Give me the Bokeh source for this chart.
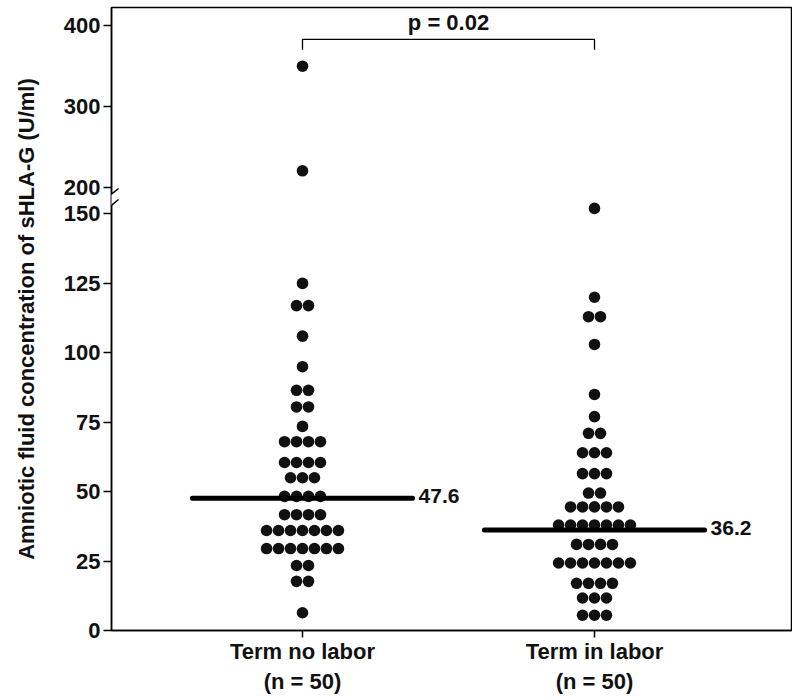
from collections import Counter
from bokeh.plotting import figure
from bokeh.models import (Range1d, FixedTicker, CustomJSTickFormatter, Label,
                          PolyAnnotation, Arrow)
from bokeh.embed import file_html
from bokeh.resources import INLINE

# ---------------- data ----------------
groups = ["Term no labor", "Term in labor"]
group_n = [50, 50]
no_labor = [350, 221, 125, 117, 117, 106, 95, 86.5, 86.5, 80.5, 80.5, 73.5,
            68, 68, 68, 68, 60.5, 60.5, 60.5, 60.5, 55, 55, 55,
            48.3, 48.3, 48.3, 48.3, 41.7, 41.7, 41.7, 41.7,
            36, 36, 36, 36, 36, 36, 36,
            29.5, 29.5, 29.5, 29.5, 29.5, 29.5, 29.5,
            23.4, 23.4, 17.7, 17.7, 6.4]
in_labor = [152, 120, 113, 113, 103, 85, 77, 71, 71, 64, 64, 64,
            56.5, 56.5, 56.5, 49.5, 49.5, 44.5, 44.5, 44.5, 44.5, 44.5,
            38, 38, 38, 38, 38, 38, 38, 31, 31, 31, 31,
            24.3, 24.3, 24.3, 24.3, 24.3, 24.3, 24.3,
            17, 17, 17, 17, 11.7, 11.7, 11.7, 5.5, 5.5, 5.5]
medians = [47.6, 36.2]
p_text = "p = 0.02"
bracket_y = 383
y_ticks = [0, 25, 50, 75, 100, 125, 150, 200, 300, 400]
y_label = "Amniotic fluid concentration of sHLA-G (U/ml)"

# ---------------- broken axis transform ----------------
LO, HI, GAP, K = 150, 200, 9.4, 0.292


def brk(v):
    return v if v < HI else LO + GAP + (v - HI) * K


FONT = "Liberation Sans"
DX = 0.041      # horizontal spacing of dots (data units)
HALF = 0.377    # half width of median bars

FL, FT, FW, FH = 111, 7, 680, 623
x_lo = 1 + (FL - 302) / 292.0
x_hi = 1 + (FL + FW - 302) / 292.0
y_hi = FH / 2.777

p = figure(frame_width=FW, frame_height=FH,
           x_range=Range1d(x_lo, x_hi), y_range=Range1d(0, y_hi),
           output_backend="svg", toolbar_location=None,
           min_border_left=FL, min_border_top=FT, min_border_right=1,
           min_border_bottom=5, background_fill_color="white",
           border_fill_color="white")

p.xgrid.visible = False
p.ygrid.visible = False
p.outline_line_color = "black"
p.outline_line_width = 1.5
p.outline_line_alpha = 1

# dots
xs, ys = [], []
for gi, vals in enumerate([no_labor, in_labor]):
    cnt = Counter(vals)
    for v, n in cnt.items():
        for i in range(n):
            xs.append(gi + 1 + (i - (n - 1) / 2) * DX)
            ys.append(brk(v))
p.scatter(xs, ys, size=11.6, fill_color="#111111", line_color=None)

# median bars + labels
for gi, m in enumerate(medians):
    g = gi + 1
    p.segment(x0=[g - HALF], x1=[g + HALF], y0=[brk(m)], y1=[brk(m)],
              line_width=5, line_color="black", line_cap="round")
    p.add_layout(Label(x=g + HALF, y=brk(m), x_offset=6, y_offset=2,
                       text=f"{m:.1f}", text_font=FONT, text_font_size="21px",
                       text_font_style="bold", text_baseline="middle",
                       text_color="#111111"))

# significance bracket
by = brk(bracket_y)
p.line([1, 1, 2, 2], [by - 3.7, by, by, by - 3.7], line_color="black",
       line_width=1.3)
p.add_layout(Label(x=1.5, y=by, y_offset=17, text=p_text, text_font=FONT,
                   text_font_size="22px", text_font_style="bold",
                   text_align="center", text_baseline="middle",
                   text_color="#111111"))

# axes
p.xaxis.ticker = FixedTicker(ticks=[1, 2])
p.xaxis.major_label_overrides = {i + 1: f"{g}\n(n = {n})"
                                 for i, (g, n) in enumerate(zip(groups, group_n))}
p.yaxis.ticker = FixedTicker(ticks=[brk(v) for v in y_ticks])
p.yaxis.formatter = CustomJSTickFormatter(
    args=dict(lo=LO, hi=HI, gap=GAP, k=K),
    code="""
    if (tick < lo + gap / 2) return Math.round(tick).toString();
    return Math.round(hi + (tick - lo - gap) / k).toString();
    """)
for ax in (p.xaxis[0], p.yaxis[0]):
    ax.axis_line_color = "black"
    ax.axis_line_width = 1.5
    ax.major_tick_line_color = "black"
    ax.major_tick_line_width = 1.5
    ax.major_tick_in = 0
    ax.major_tick_out = 8
    ax.minor_tick_line_color = None
    ax.major_label_text_font = FONT
    ax.major_label_text_font_style = "bold"
    ax.major_label_text_font_size = "22px"
    ax.major_label_text_color = "#111111"
    ax.major_label_standoff = 3
p.xaxis.major_label_text_line_height = 1.2
p.xaxis.major_label_standoff = 1
p.xaxis.major_tick_out = 7
p.yaxis.axis_label = y_label
p.yaxis.axis_label_text_font = FONT
p.yaxis.axis_label_text_font_style = "bold"
p.yaxis.axis_label_text_font_size = "22px"
p.yaxis.axis_label_text_color = "#111111"
p.yaxis.axis_label_standoff = 22

# axis break marks
x_at = lambda px: 1 + (px - 302) / 292.0
y_at = lambda py: (FT + FH - py) / 2.777
p.add_layout(PolyAnnotation(
    xs=[x_at(103), x_at(118), x_at(118), x_at(105)],
    ys=[y_at(200), y_at(188), y_at(199), y_at(210)],
    fill_color="white", fill_alpha=1, line_color=None))
for (a, b, c, d) in [(103, 200, 118, 188), (105, 210, 118, 199)]:
    p.add_layout(Arrow(end=None, x_start=x_at(a), y_start=y_at(b),
                       x_end=x_at(c), y_end=y_at(d),
                       line_color="black", line_width=1.5))

open("out.html", "w").write(file_html(p, INLINE))
